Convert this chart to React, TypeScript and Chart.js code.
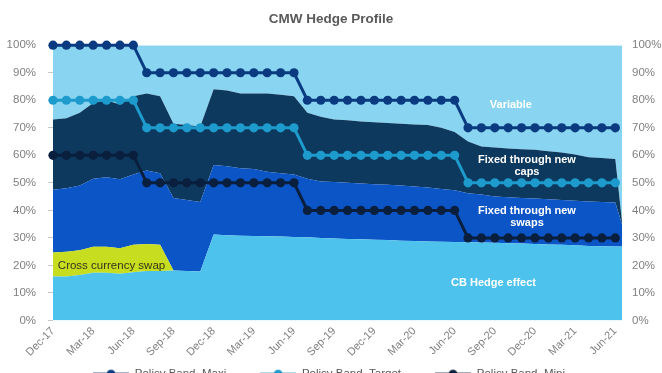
import React, { useEffect, useRef } from 'react';
import { Chart, registerables } from 'chart.js';

Chart.register(...registerables);

// ---------- data ----------
const months = [
  'Dec-17', 'Jan-18', 'Feb-18', 'Mar-18', 'Apr-18', 'May-18', 'Jun-18', 'Jul-18', 'Aug-18', 'Sep-18', 'Oct-18', 'Nov-18',
  'Dec-18', 'Jan-19', 'Feb-19', 'Mar-19', 'Apr-19', 'May-19', 'Jun-19', 'Jul-19', 'Aug-19', 'Sep-19', 'Oct-19', 'Nov-19',
  'Dec-19', 'Jan-20', 'Feb-20', 'Mar-20', 'Apr-20', 'May-20', 'Jun-20', 'Jul-20', 'Aug-20', 'Sep-20', 'Oct-20', 'Nov-20',
  'Dec-20', 'Jan-21', 'Feb-21', 'Mar-21', 'Apr-21', 'May-21', 'Jun-21',
];

// stacked area layers (% of exposure); the 44th value is the closing sample at the end of Jun-21
const cbHedge = [
  16, 16, 16.5, 17.3, 17.3, 17, 17.5, 18, 18, 18.2, 18, 17.8,
  31.2, 31, 30.8, 30.7, 30.6, 30.5, 30.3, 30.2, 30, 29.8, 29.6, 29.5,
  29.3, 29.2, 29, 28.9, 28.7, 28.6, 28.5, 28.4, 28.3, 28.2, 28.1, 28,
  27.8, 27.6, 27.5, 27.3, 27.1, 27, 26.9, 26.9,
];
const crossCurrencySwap = [
  8.7, 9, 9, 9.5, 9.5, 9.2, 10, 9.8, 9.5, 0, 0, 0,
  0, 0, 0, 0, 0, 0, 0, 0, 0, 0, 0, 0,
  0, 0, 0, 0, 0, 0, 0, 0, 0, 0, 0, 0,
  0, 0, 0, 0, 0, 0, 0, 0,
];
const fixedSwaps = [
  22.8, 23, 23.5, 24.7, 25.2, 25.1, 25.5, 26.7, 26, 26.3, 25.8, 25.2,
  25.3, 25, 24.5, 24.3, 23.4, 23, 22.7, 21.3, 20.5, 20.5, 20.4, 20.3,
  20.2, 20.1, 20, 19.8, 19.6, 19.2, 18.8, 17.8, 17.5, 16.8, 16.7, 16.5,
  16.5, 16.4, 16.3, 16.2, 16.1, 16, 16, 8.1,
];
const fixedCaps = [
  25.5, 25.5, 26.5, 27.5, 28, 27.2, 28.5, 28, 28, 27, 27.2, 27.5,
  27.5, 27.5, 27.2, 27.5, 28.5, 28.5, 28.5, 24, 23.5, 22.7, 22.7, 22.5,
  22.5, 22.4, 22.5, 22.5, 22.7, 22.2, 21.2, 18.8, 17.4, 17.8, 17.7, 17.7,
  17.7, 17.5, 17.2, 16.8, 16.1, 16, 15.8, 1,
];
const variable = [
  27, 26.5, 24.5, 21, 20, 21.5, 18.5, 17.5, 18.5, 28.5, 29, 29.5,
  16, 16.5, 17.5, 17.5, 17.5, 18, 18.5, 24.5, 26, 27, 27.3, 27.7,
  28, 28.3, 28.5, 28.8, 29, 30, 31.5, 35, 36.8, 37.2, 37.5, 37.8,
  38, 38.5, 39, 39.7, 40.7, 41, 41.3, 64,
];

// policy bands (%)
const policyMaxi = [
  100, 100, 100, 100, 100, 100, 100, 90, 90, 90, 90, 90,
  90, 90, 90, 90, 90, 90, 90, 80, 80, 80, 80, 80,
  80, 80, 80, 80, 80, 80, 80, 70, 70, 70, 70, 70,
  70, 70, 70, 70, 70, 70, 70,
];
const policyTarget = [
  80, 80, 80, 80, 80, 80, 80, 70, 70, 70, 70, 70,
  70, 70, 70, 70, 70, 70, 70, 60, 60, 60, 60, 60,
  60, 60, 60, 60, 60, 60, 60, 50, 50, 50, 50, 50,
  50, 50, 50, 50, 50, 50, 50,
];
const policyMini = [
  60, 60, 60, 60, 60, 60, 60, 50, 50, 50, 50, 50,
  50, 50, 50, 50, 50, 50, 50, 40, 40, 40, 40, 40,
  40, 40, 40, 40, 40, 40, 40, 30, 30, 30, 30, 30,
  30, 30, 30, 30, 30, 30, 30,
];

const yTicks = [0, 10, 20, 30, 40, 50, 60, 70, 80, 90, 100];

// ---------- styling ----------
const FONT = '"Liberation Sans", Arial, Helvetica, sans-serif';
const C = {
  variable: '#88d4f1',
  caps: '#0d395e',
  swaps: '#0b55c7',
  cross: '#c6de1f',
  cb: '#4cc2ec',
  maxi: '#0a3b80',
  target: '#1e9bcd',
  mini: '#0a1f3d',
  axisText: '#808080',
  title: '#595959',
};

const areaTexts = [
  { lines: ['Variable'], month: 34.2, value: 78.3, color: '#ffffff', bold: true, size: 11 },
  { lines: ['Fixed through new', 'caps'], month: 35.4, value: 56.2, color: '#ffffff', bold: true, size: 11 },
  { lines: ['Fixed through new', 'swaps'], month: 35.4, value: 37.7, color: '#ffffff', bold: true, size: 11 },
  { lines: ['CB Hedge effect'], month: 32.9, value: 13.8, color: '#ffffff', bold: true, size: 11 },
  { lines: ['Cross currency swap'], month: 4.37, value: 19.9, color: '#33331a', bold: false, size: 11.5 },
];

function legendSymbol(color: string) {
  const c = document.createElement('canvas');
  c.width = 60;
  c.height = 12;
  const g = c.getContext('2d')!;
  g.strokeStyle = color;
  g.lineWidth = 3;
  g.beginPath();
  g.moveTo(24, 6);
  g.lineTo(60, 6);
  g.stroke();
  g.fillStyle = color;
  g.beginPath();
  g.arc(42, 6, 4.5, 0, Math.PI * 2);
  g.fill();
  return c;
}

export default function App() {
  const ref = useRef<HTMLCanvasElement>(null);

  useEffect(() => {
    const n = months.length;
    const areaPts = (vals: number[]) => vals.map((v, i) => ({ x: i < n ? i : n - 0.5, y: v }));
    const linePts = (vals: number[]) => vals.map((v, i) => ({ x: i, y: v }));

    const lineDs = (label: string, vals: number[], color: string) => ({
      type: 'line' as const,
      label,
      data: linePts(vals),
      xAxisID: 'x',
      yAxisID: 'y1',
      borderColor: color,
      backgroundColor: color,
      pointBackgroundColor: color,
      pointBorderColor: color,
      pointBorderWidth: 0,
      pointRadius: 4.6,
      borderWidth: 3,
      tension: 0,
      fill: false,
      clip: false,
    });
    const areaDs = (label: string, vals: number[], color: string, fill: any) => ({
      type: 'line' as const,
      label,
      data: areaPts(vals),
      xAxisID: 'x',
      yAxisID: 'y',
      backgroundColor: color,
      borderColor: color,
      borderWidth: 0,
      pointRadius: 0,
      tension: 0,
      fill,
    });

    const symbols: Record<string, HTMLCanvasElement> = {
      'Policy Band, Maxi': legendSymbol(C.maxi),
      'Policy Band, Target': legendSymbol(C.target),
      'Policy Band, Mini': legendSymbol(C.mini),
    };

    const textPlugin = {
      id: 'areaText',
      afterDatasetsDraw(chart: any) {
        const { ctx, scales } = chart;
        ctx.save();
        ctx.textAlign = 'center';
        ctx.textBaseline = 'middle';
        for (const a of areaTexts) {
          ctx.font = `${a.bold ? 'bold ' : ''}${a.size}px ${FONT}`;
          ctx.fillStyle = a.color;
          const cx = scales.x.getPixelForValue(a.month);
          const cy = scales.y.getPixelForValue(a.value);
          const lh = a.size * 1.1;
          a.lines.forEach((t, k) => ctx.fillText(t, cx, cy + (k - (a.lines.length - 1) / 2) * lh));
        }
        ctx.restore();
      },
    };

    // the legend row in the original sits slightly left of centre
    const legendShift = {
      id: 'legendShift',
      afterLayout(chart: any) {
        const lg = chart.legend;
        if (lg) {
          lg.right -= 28;
          lg.width -= 28;
        }
      },
    };

    Chart.defaults.font.family = FONT;

    const chart = new Chart(ref.current!, {
      type: 'line',
      data: {
        datasets: [
          lineDs('Policy Band, Maxi', policyMaxi, C.maxi),
          lineDs('Policy Band, Target', policyTarget, C.target),
          lineDs('Policy Band, Mini', policyMini, C.mini),
          areaDs('CB Hedge effect', cbHedge, C.cb, 'origin'),
          areaDs('Cross currency swap', crossCurrencySwap, C.cross, '-1'),
          areaDs('Fixed through new swaps', fixedSwaps, C.swaps, '-1'),
          areaDs('Fixed through new caps', fixedCaps, C.caps, '-1'),
          areaDs('Variable', variable, C.variable, '-1'),
        ] as any,
      },
      options: {
        responsive: true,
        maintainAspectRatio: false,
        animation: false,
        devicePixelRatio: 1,
        layout: { padding: 0 },
        scales: {
          x: {
            type: 'linear',
            min: 0,
            max: n - 0.5,
            grid: { display: false, drawTicks: false },
            border: { display: false },
            afterBuildTicks: (s: any) => {
              s.ticks = months.map((_, i) => i).filter((i) => i % 3 === 0).map((v) => ({ value: v }));
            },
            afterFit: (s: any) => {
              s.height = 38;
            },
            ticks: {
              autoSkip: false,
              minRotation: 45,
              maxRotation: 45,
              padding: 4,
              color: C.axisText,
              font: { size: 11 },
              callback: (v: any) => months[v as number] ?? '',
            },
          },
          y: {
            type: 'linear',
            position: 'left',
            stacked: true,
            min: 0,
            max: 100,
            afterBuildTicks: (s: any) => {
              s.ticks = yTicks.map((v) => ({ value: v }));
            },
            afterFit: (s: any) => {
              s.width = 53;
            },
            grid: { drawOnChartArea: false, drawTicks: true, tickLength: 5, color: '#c8c8c8' },
            border: { display: false },
            ticks: { padding: 12, color: C.axisText, font: { size: 11.5 }, callback: (v: any) => v + '%' },
          },
          y1: {
            type: 'linear',
            position: 'right',
            stacked: false,
            min: 0,
            max: 100,
            afterBuildTicks: (s: any) => {
              s.ticks = yTicks.map((v) => ({ value: v }));
            },
            afterFit: (s: any) => {
              s.width = 40;
            },
            grid: { display: false, drawTicks: false },
            border: { display: false },
            ticks: { padding: 10, color: C.axisText, font: { size: 11.5 }, callback: (v: any) => v + '%' },
          },
        },
        plugins: {
          title: {
            display: true,
            text: 'CMW Hedge Profile',
            color: C.title,
            font: { size: 13.5, weight: 'bold' },
            padding: { top: 11, bottom: 18 },
          },
          legend: {
            display: true,
            position: 'bottom',
            labels: {
              color: C.title,
              font: { size: 11.5 },
              usePointStyle: true,
              pointStyleWidth: 60,
              padding: 10,
              filter: (item: any) => item.datasetIndex < 3,
              generateLabels: (chart: any) => {
                const items = Chart.defaults.plugins.legend.labels.generateLabels(chart);
                return items.map((it: any) => ({ ...it, pointStyle: symbols[it.text] || it.pointStyle }));
              },
            },
          },
          tooltip: { enabled: false },
        },
      },
      plugins: [textPlugin, legendShift],
    });

    return () => chart.destroy();
  }, []);

  return (
    <div style={{ position: 'fixed', left: 0, top: 0, width: 662, height: 373, overflow: 'hidden', background: '#ffffff' }}>
      <div style={{ position: 'relative', width: 662, height: 390 }}>
        <canvas ref={ref} />
      </div>
    </div>
  );
}
